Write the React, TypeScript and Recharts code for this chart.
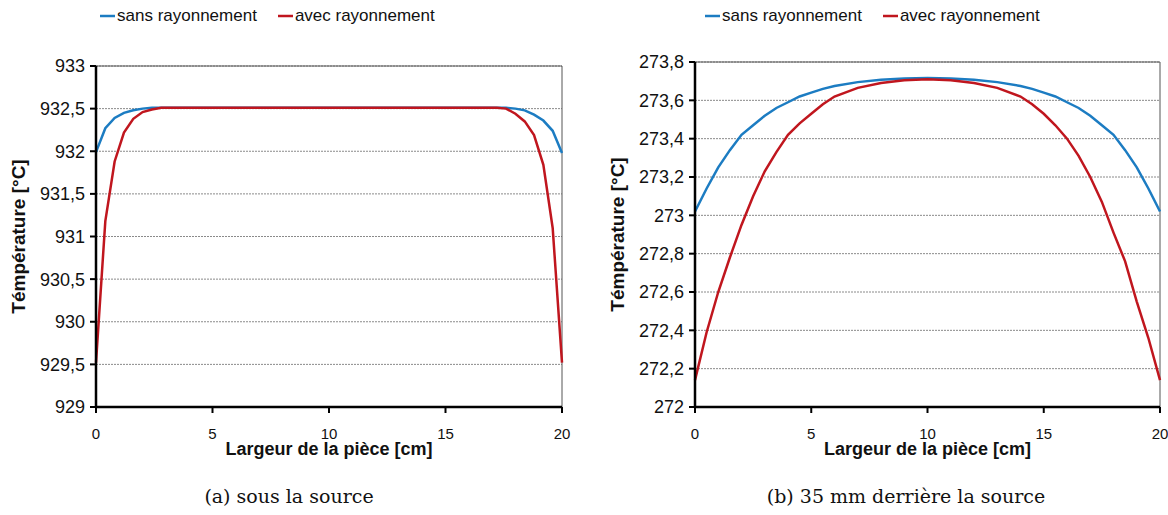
import React from 'react';
import {
  LineChart, Line, XAxis, YAxis, CartesianGrid, Legend, ReferenceLine,
} from 'recharts';

// (a) sous la source
const leftX = [0, 0.4, 0.8, 1.2, 1.6, 2, 2.4, 2.8, 3.2, 3.6, 4, 5, 10, 15, 16, 16.4, 16.8, 17.2, 17.6, 18, 18.4, 18.8, 19.2, 19.6, 20];
const leftSans = [931.99, 932.27, 932.39, 932.45, 932.48, 932.5, 932.51, 932.51, 932.51, 932.51, 932.51, 932.51, 932.51, 932.51, 932.51, 932.51, 932.51, 932.51, 932.51, 932.5, 932.48, 932.43, 932.36, 932.24, 931.98];
const leftAvec = [929.52, 931.18, 931.88, 932.22, 932.38, 932.46, 932.49, 932.51, 932.51, 932.51, 932.51, 932.51, 932.51, 932.51, 932.51, 932.51, 932.51, 932.51, 932.5, 932.44, 932.35, 932.19, 931.84, 931.1, 929.52];
const leftTicks = [929, 929.5, 930, 930.5, 931, 931.5, 932, 932.5, 933];

// (b) 35 mm derrière la source
const rightX = [0, 0.5, 1, 1.5, 2, 2.5, 3, 3.5, 4, 4.5, 5, 5.5, 6, 7, 8, 9, 10, 11, 12, 13, 14, 14.5, 15, 15.5, 16, 16.5, 17, 17.5, 18, 18.5, 19, 19.5, 20];
const rightSans = [273.02, 273.14, 273.25, 273.34, 273.42, 273.47, 273.52, 273.56, 273.59, 273.62, 273.64, 273.66, 273.675, 273.695, 273.708, 273.714, 273.716, 273.714, 273.708, 273.695, 273.675, 273.66, 273.64, 273.62, 273.59, 273.56, 273.52, 273.47, 273.42, 273.34, 273.25, 273.14, 273.02];
const rightAvec = [272.14, 272.39, 272.6, 272.78, 272.95, 273.1, 273.23, 273.33, 273.42, 273.48, 273.53, 273.58, 273.62, 273.665, 273.69, 273.705, 273.71, 273.705, 273.69, 273.665, 273.62, 273.58, 273.53, 273.47, 273.4, 273.31, 273.2, 273.07, 272.91, 272.76, 272.55, 272.36, 272.14];
const rightTicks = [272, 272.2, 272.4, 272.6, 272.8, 273, 273.2, 273.4, 273.6, 273.8];

const xTicks = [0, 5, 10, 15, 20];
const seriesNames = ['sans rayonnement', 'avec rayonnement'];
const BLUE = '#1c7cc2';
const RED = '#c0161e';

const comma = (v: number) => String(v).replace('.', ',');

function LegendContent({ payload }: any) {
  // keep the series order (recharts sorts the payload by name)
  const items = [...(payload || [])].sort(
    (a: any, b: any) => seriesNames.indexOf(a.value) - seriesNames.indexOf(b.value),
  );
  return (
    <div style={{ display: 'flex', fontSize: 17, lineHeight: '22px', color: '#111' }}>
      {items.map((p: any) => (
        <span key={p.value} style={{ display: 'flex', alignItems: 'center', marginRight: 21 }}>
          <svg width={15} height={4} style={{ display: 'block' }}>
            <line x1={0} y1={2} x2={15} y2={2} stroke={p.color} strokeWidth={2.5} />
          </svg>
          <span style={{ marginLeft: 2 }}>{p.value}</span>
        </span>
      ))}
    </div>
  );
}

interface PanelProps {
  xs: number[];
  sans: number[];
  avec: number[];
  ticks: number[];
  width: number;
  top: number;
  right: number;
  yAxisWidth: number;
  titleOffset: number;
  legendLeft: number;
}

function Panel({ xs, sans, avec, ticks, width, top, right, yAxisWidth, titleOffset, legendLeft }: PanelProps) {
  const sansData = xs.map((x, i) => ({ x, y: sans[i] }));
  const avecData = xs.map((x, i) => ({ x, y: avec[i] }));
  const yMin = ticks[0];
  const yMax = ticks[ticks.length - 1];
  return (
    <LineChart width={width} height={470} margin={{ top, right, bottom: 0, left: 0 }}>
      <CartesianGrid horizontal vertical={false} stroke="#8a8a8a" strokeDasharray="2 1" />
      <XAxis
        type="number"
        dataKey="x"
        domain={[0, 20]}
        ticks={xTicks}
        height={63}
        tickSize={6}
        tickMargin={15}
        axisLine={{ stroke: '#000', strokeWidth: 2.5 }}
        tickLine={{ stroke: '#000', strokeWidth: 2 }}
        tick={{ fill: '#111', fontSize: 15 }}
        label={{ value: 'Largeur de la pièce [cm]', position: 'insideBottom', offset: 15, style: { fontWeight: 'bold', fontSize: 18, fill: '#111' } }}
      />
      <YAxis
        type="number"
        domain={[yMin, yMax]}
        ticks={ticks}
        width={yAxisWidth}
        tickSize={6}
        tickMargin={5}
        tickFormatter={comma}
        axisLine={{ stroke: '#000', strokeWidth: 2.5 }}
        tickLine={{ stroke: '#000', strokeWidth: 2 }}
        tick={{ fill: '#111', fontSize: 18 }}
        label={{ value: 'Témpérature [°C]', angle: -90, position: 'insideLeft', offset: titleOffset, style: { textAnchor: 'middle', fontWeight: 'bold', fontSize: 19, fill: '#111' } }}
      />
      <ReferenceLine y={yMax} stroke="#555" strokeWidth={1} />
      <ReferenceLine x={20} stroke="#555" strokeWidth={1} />
      <Legend verticalAlign="top" content={<LegendContent />} wrapperStyle={{ top: 5, left: legendLeft, width: 'auto' }} />
      <Line data={sansData} dataKey="y" name={seriesNames[0]} type="linear" stroke={BLUE} strokeWidth={2.5} dot={false} isAnimationActive={false} />
      <Line data={avecData} dataKey="y" name={seriesNames[1]} type="linear" stroke={RED} strokeWidth={2.5} dot={false} isAnimationActive={false} />
    </LineChart>
  );
}

export default function App() {
  const caption: React.CSSProperties = {
    position: 'absolute',
    top: 485,
    fontFamily: '"DejaVu Serif", serif',
    fontSize: 19,
    color: '#111',
    transform: 'translateX(-50%)',
    whiteSpace: 'nowrap',
  };
  return (
    <div style={{ position: 'absolute', left: 0, top: 0, width: 1168, height: 515, background: '#fff', fontFamily: '"Liberation Sans", Arial, sans-serif' }}>
      <div style={{ position: 'absolute', left: 0, top: 0 }}>
        <Panel xs={leftX} sans={leftSans} avec={leftAvec} ticks={leftTicks} width={580} top={44} right={18} yAxisWidth={96} titleOffset={18} legendLeft={100} />
      </div>
      <div style={{ position: 'absolute', left: 600, top: 0 }}>
        <Panel xs={rightX} sans={rightSans} avec={rightAvec} ticks={rightTicks} width={568} top={40} right={8} yAxisWidth={95} titleOffset={17} legendLeft={105} />
      </div>
      <div style={{ ...caption, left: 289 }}>(a) sous la source</div>
      <div style={{ ...caption, left: 906 }}>(b) 35 mm derrière la source</div>
    </div>
  );
}
